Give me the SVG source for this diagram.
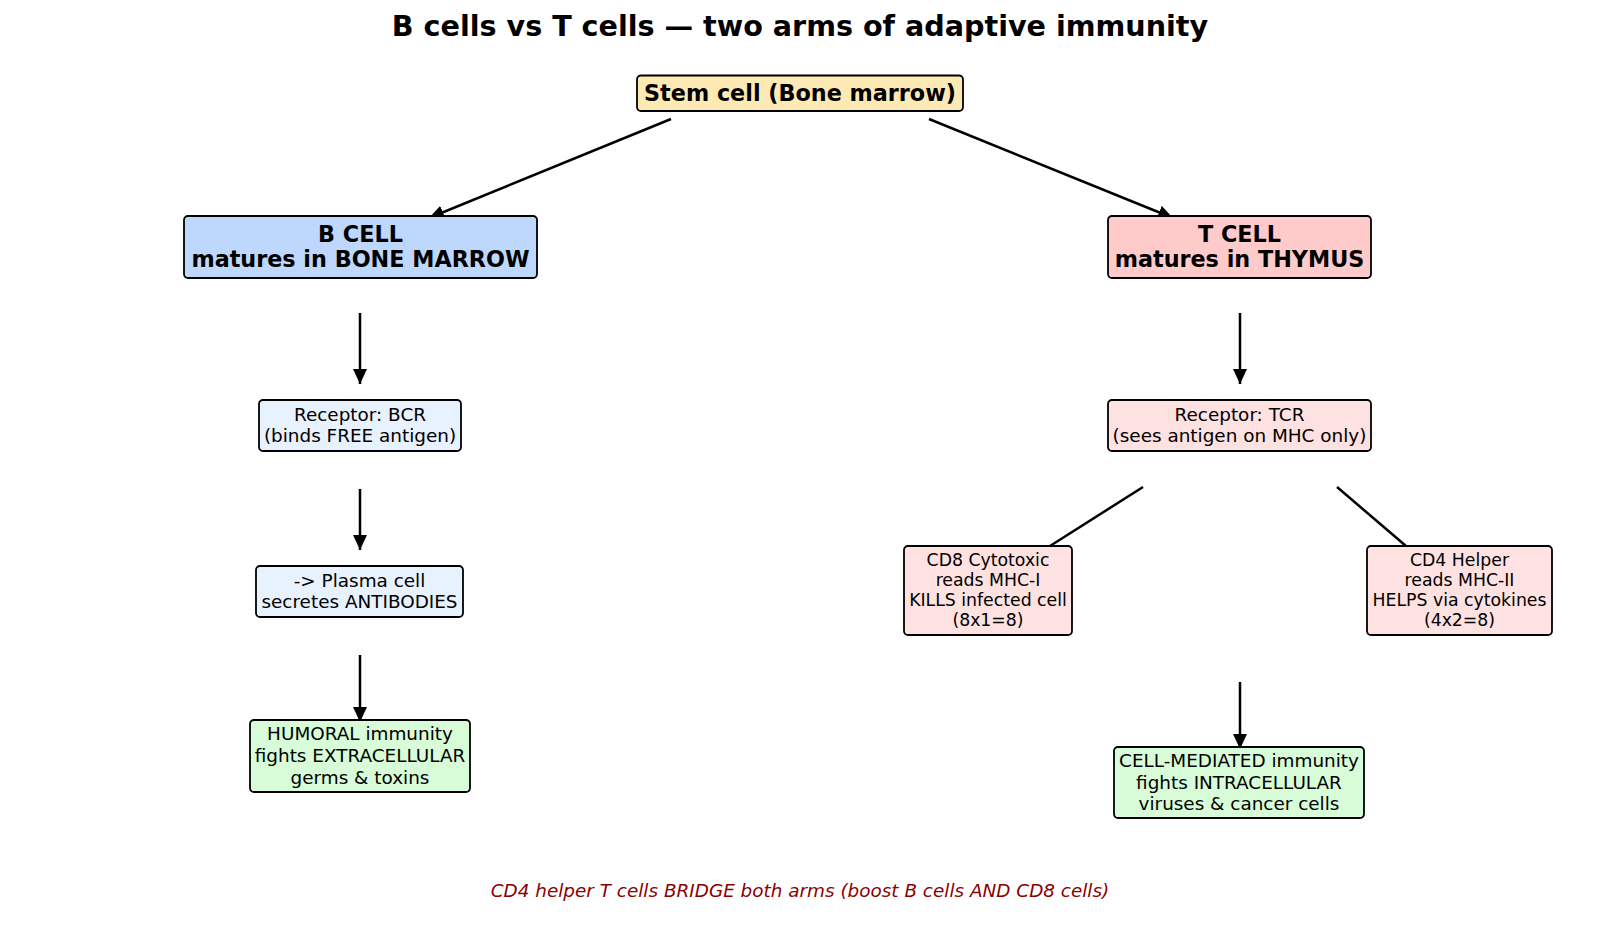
<svg xmlns="http://www.w3.org/2000/svg" width="1600" height="938" viewBox="0 0 1600 938">
<style>
.box{stroke:#000;stroke-width:1.8}
.t{font-family:"DejaVu Sans",sans-serif;text-anchor:middle;fill:#000}
.b{font-weight:bold;font-size:22.3px}
.n{font-size:18.4px}
.s{font-size:17.3px}
.c{stroke:#000;stroke-width:2.5;fill:none}
</style>
<defs>
<marker id="ah" viewBox="0 0 15 14" refX="15" refY="7" markerWidth="15" markerHeight="14" markerUnits="userSpaceOnUse" orient="auto">
<path d="M0,0 L15,7 L0,14 z" fill="#000"/>
</marker>
</defs>
<rect width="1600" height="938" fill="#fff"/>
<text class="t" x="800" y="36" font-size="28.6" font-weight="bold">B cells vs T cells — two arms of adaptive immunity</text>
<g id="connectors">
<line class="c" x1="671" y1="119" x2="429" y2="218" marker-end="url(#ah)"/>
<line class="c" x1="929" y1="119" x2="1173" y2="218" marker-end="url(#ah)"/>
<line class="c" x1="360" y1="313" x2="360" y2="384" marker-end="url(#ah)"/>
<line class="c" x1="360" y1="489" x2="360" y2="550" marker-end="url(#ah)"/>
<line class="c" x1="360" y1="655" x2="360" y2="722" marker-end="url(#ah)"/>
<line class="c" x1="1240" y1="313" x2="1240" y2="384" marker-end="url(#ah)"/>
<line class="c" x1="1143" y1="487" x2="1050" y2="546"/>
<line class="c" x1="1337" y1="487" x2="1406" y2="546"/>
<line class="c" x1="1240" y1="682" x2="1240" y2="749" marker-end="url(#ah)"/>
</g>
<g id="stem">
<rect class="box" x="637" y="75.5" width="326" height="35.5" rx="4" fill="#fde9b3"/>
<text class="t b" x="800" y="101">Stem cell (Bone marrow)</text>
</g>
<g id="bcell">
<rect class="box" x="184" y="216" width="353" height="62" rx="4" fill="#bdd7fd"/>
<text class="t b" x="360.5" y="241.5">B CELL</text>
<text class="t b" x="360.5" y="267">matures in BONE MARROW</text>
</g>
<g id="tcell">
<rect class="box" x="1108" y="216" width="263" height="62" rx="4" fill="#ffcaca"/>
<text class="t b" x="1239.5" y="241.5">T CELL</text>
<text class="t b" x="1239.5" y="267">matures in THYMUS</text>
</g>
<g id="bcr">
<rect class="box" x="259" y="400" width="202" height="51" rx="4" fill="#e8f1fe"/>
<text class="t n" x="360" y="420.7">Receptor: BCR</text>
<text class="t n" x="360" y="442.3">(binds FREE antigen)</text>
</g>
<g id="tcr">
<rect class="box" x="1108" y="400" width="263" height="51" rx="4" fill="#fee1e1"/>
<text class="t n" x="1239.5" y="420.7">Receptor: TCR</text>
<text class="t n" x="1239.5" y="442.3">(sees antigen on MHC only)</text>
</g>
<g id="plasma">
<rect class="box" x="256" y="566" width="207" height="51" rx="4" fill="#e8f1fe"/>
<text class="t n" x="359.5" y="586.7">-&gt; Plasma cell</text>
<text class="t n" x="359.5" y="608.3">secretes ANTIBODIES</text>
</g>
<g id="humoral">
<rect class="box" x="250" y="720" width="220" height="72" rx="4" fill="#d7fcd7"/>
<text class="t n" x="360" y="740.4">HUMORAL immunity</text>
<text class="t n" x="360" y="762">fights EXTRACELLULAR</text>
<text class="t n" x="360" y="783.6">germs &amp; toxins</text>
</g>
<g id="cd8">
<rect class="box" x="904" y="546" width="168" height="89" rx="4" fill="#fee1e1"/>
<text class="t s" x="988" y="566">CD8 Cytotoxic</text>
<text class="t s" x="988" y="586">reads MHC-I</text>
<text class="t s" x="988" y="606">KILLS infected cell</text>
<text class="t s" x="988" y="626">(8x1=8)</text>
</g>
<g id="cd4">
<rect class="box" x="1367" y="546" width="185" height="89" rx="4" fill="#fee1e1"/>
<text class="t s" x="1459.5" y="566">CD4 Helper</text>
<text class="t s" x="1459.5" y="586">reads MHC-II</text>
<text class="t s" x="1459.5" y="606">HELPS via cytokines</text>
<text class="t s" x="1459.5" y="626">(4x2=8)</text>
</g>
<g id="cellmed">
<rect class="box" x="1114" y="747" width="250" height="71" rx="4" fill="#d7fcd7"/>
<text class="t n" x="1239" y="767">CELL-MEDIATED immunity</text>
<text class="t n" x="1239" y="788.5">fights INTRACELLULAR</text>
<text class="t n" x="1239" y="810">viruses &amp; cancer cells</text>
</g>
<text class="t n" x="800" y="897" font-style="italic" style="fill:#8b0000">CD4 helper T cells BRIDGE both arms (boost B cells AND CD8 cells)</text>
</svg>
